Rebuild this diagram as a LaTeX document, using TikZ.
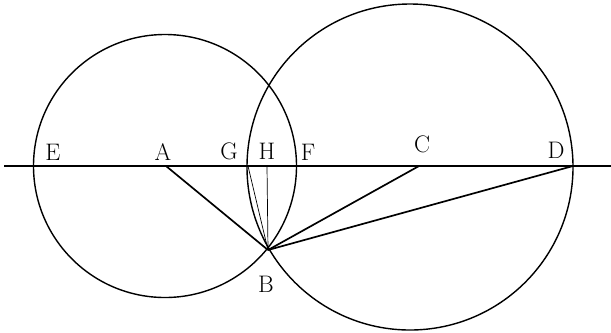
\documentclass[tikz,border=0pt]{standalone}
\usepackage{tikz}
\usetikzlibrary{calc}
\tikzstyle{pointlabel} = [inner sep=0pt, font=\fontsize{17}{17}\selectfont]
\tikzstyle{circ} = [line width=1pt]
\tikzstyle{chord} = [line width=1.2pt]
\tikzstyle{thinchord} = [line width=0.5pt]

\begin{document}
\begin{tikzpicture}[x=0.025cm, y=-0.025cm]
            \useasboundingbox (0,0) rectangle (611,332);

            % Points on the horizontal line and the lower intersection
            \coordinate (left) at (4,166);
            \coordinate (right) at (611,166);
            \coordinate (E) at (33,166);
            \coordinate (A) at (166,166);
            \coordinate (G) at (248,166);
            \coordinate (H) at (267,166);
            \coordinate (F) at (296,166);
            \coordinate (C) at (419,166);
            \coordinate (D) at (573,166);
            \coordinate (B) at (268,250);

            % The two circles
            \draw[circ] (165,166) circle [radius=131.5];
            \draw[circ] (410,167) circle [radius=163];
            \draw[circ] (left) -- (right);

            % Lines to B
            \draw[chord] (A) -- (B);
            \draw[thinchord] (G) -- (B);
            \draw[thinchord] (H) -- (B);
            \draw[chord] (C) -- (B);
            \draw[chord] (D) -- (B);

            % Labels
            \node[pointlabel] (lE) at (53,152) {E};
            \node[pointlabel] (lA) at (163,152) {A};
            \node[pointlabel] (lG) at (229,151) {G};
            \node[pointlabel] (lH) at (267,151) {H};
            \node[pointlabel] (lF) at (308,152) {F};
            \node[pointlabel] (lC) at (422,144) {C};
            \node[pointlabel] (lD) at (556,150) {D};
            \node[pointlabel] (lB) at (266,284) {B};

        \end{tikzpicture}
\end{document}
